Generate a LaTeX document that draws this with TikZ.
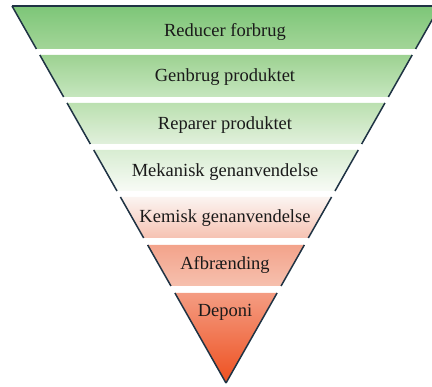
\documentclass[tikz,border=0pt]{standalone}
\usepackage{fontspec}
\setmainfont{Liberation Serif}
\definecolor{ga}{HTML}{7DC678}
\definecolor{gb}{HTML}{A3D598}
\definecolor{gc}{HTML}{9DD292}
\definecolor{gd}{HTML}{C6E6BE}
\definecolor{ge}{HTML}{BBE0B0}
\definecolor{gf}{HTML}{E1F0DC}
\definecolor{gg}{HTML}{D8EDD2}
\definecolor{gh}{HTML}{F8FBF6}
\definecolor{ra}{HTML}{FBF4F1}
\definecolor{rb}{HTML}{F6C2B2}
\definecolor{rc}{HTML}{F3A38B}
\definecolor{rd}{HTML}{F6C0AE}
\definecolor{re}{HTML}{F49C82}
\definecolor{rf}{HTML}{EE5020}
\definecolor{edgecol}{HTML}{1F3344}
\definecolor{txt}{HTML}{1A1A1A}
\begin{document}
\begin{tikzpicture}[x=1pt,y=-1pt,
  edge/.style={draw=edgecol,line width=1.5pt},
  lbl/.style={font=\fontsize{18.5}{22}\selectfont,text=txt,inner sep=0pt}]
\useasboundingbox (0,0) rectangle (432,387);
\clip (0,0) rectangle (432,387);
\foreach \t/\b/\ct/\cb in {6/49/ga/gb,55/97/gc/gd,103/144/ge/gf,150/191/gg/gh,197/238/ra/rb,245/286/rc/rd,293/383/re/rf}{
  \pgfmathsetmacro\xlt{12+(\t-6)*0.56764}
  \pgfmathsetmacro\xrt{440-(\t-6)*0.56764}
  \pgfmathsetmacro\xlb{12+(\b-6)*0.56764}
  \pgfmathsetmacro\xrb{440-(\b-6)*0.56764}
  \shade[top color=\ct,bottom color=\cb] (\xlt,\t) -- (\xrt,\t) -- (\xrb,\b) -- (\xlb,\b) -- cycle;
  \draw[edge] (\xlt,\t) -- (\xlb,\b);
  \draw[edge] (\xrt,\t) -- (\xrb,\b);
}
\draw[edge] (12,6) -- (440,6);
\node[lbl] (t1) at (225,32) {Reducer forbrug};
\node[lbl] (t2) at (225,77) {Genbrug produktet};
\node[lbl] (t3) at (225,125) {Reparer produktet};
\node[lbl] (t4) at (225,172) {Mekanisk genanvendelse};
\node[lbl] (t5) at (225,218) {Kemisk genanvendelse};
\node[lbl] (t6) at (225,265) {Afbrænding};
\node[lbl] (t7) at (225,312) {Deponi};
\end{tikzpicture}
\end{document}
